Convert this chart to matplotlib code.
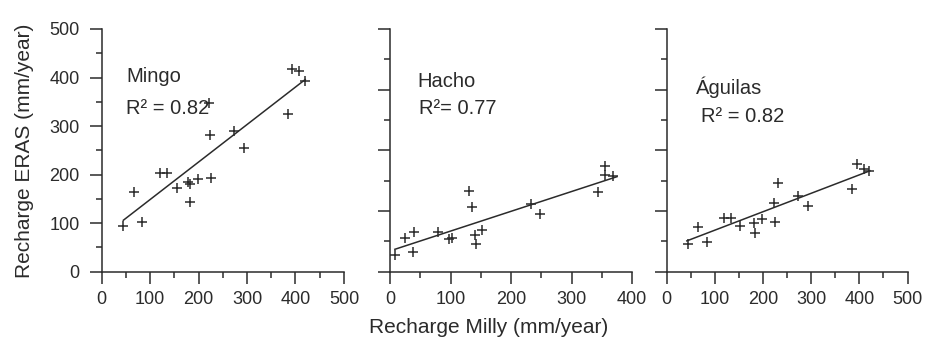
import matplotlib
matplotlib.use("Agg")
import matplotlib.pyplot as plt
import numpy as np
from matplotlib.ticker import MultipleLocator

plt.rcParams["font.family"] = ["Liberation Sans", "DejaVu Sans"]

# values
mingo_x = [45, 66, 83, 121, 134, 155, 178, 183, 183, 198, 224, 225, 222, 273, 294, 384, 393, 408, 420]
mingo_y = [94, 165, 103, 204, 204, 173, 185, 180, 144, 190, 281, 192, 347, 290, 254, 325, 417, 413, 393]

hacho_x = [8, 25, 38, 40, 80, 98, 102, 130, 136, 141, 142, 152, 233, 248, 343, 355, 355, 369]
hacho_y = [28, 56, 32, 65, 66, 54, 55, 133, 107, 60, 45, 68, 111, 95, 131, 174, 159, 158]

aguilas_x = [45, 66, 83, 120, 133, 153, 181, 183, 197, 225, 223, 231, 273, 294, 385, 395, 410, 420]
aguilas_y = [46, 74, 49, 89, 89, 76, 80, 64, 87, 82, 114, 146, 125, 108, 136, 177, 170, 166]

# regression lines: slope, intercept, x extent
fit_slope = [0.773, 0.326, 0.304]
fit_intercept = [71.2, 34.3, 38.0]
fit_xrange = [(45, 420), (8, 375), (42, 422)]

names = ["Mingo", "Hacho", "Águilas"]
r2_labels = ["R² = 0.82", "R²= 0.77", "R² = 0.82"]
xmax = [500, 400, 500]
ymax = [500, 400, 400]

ink = "#2b2b2b"

fig = plt.figure(figsize=(9.34, 3.45), dpi=100)
positions = [
    [0.1087, 0.2125, 0.2596, 0.7035],
    [0.4176, 0.2125, 0.2591, 0.7035],
    [0.7137, 0.2125, 0.2580, 0.7035],
]
text_pos = [
    [(0.101, 0.806), (0.101, 0.674)],
    [(0.112, 0.785), (0.12, 0.674)],
    [(0.12, 0.761), (0.141, 0.641)],
]

all_x = [mingo_x, hacho_x, aguilas_x]
all_y = [mingo_y, hacho_y, aguilas_y]

for i in range(3):
    ax = fig.add_axes(positions[i])
    ax.plot(all_x[i], all_y[i], "+", color=ink, markersize=7, mew=1.1, zorder=3)
    lx = np.array(fit_xrange[i], dtype=float)
    ax.plot(lx, fit_slope[i] * lx + fit_intercept[i], color=ink, lw=1.1)

    ax.set_xlim(0, xmax[i])
    ax.set_ylim(0, ymax[i])
    ax.xaxis.set_major_locator(MultipleLocator(100))
    ax.xaxis.set_minor_locator(MultipleLocator(50))
    ax.yaxis.set_major_locator(MultipleLocator(100))
    ax.yaxis.set_minor_locator(MultipleLocator(50))
    for side in ["top", "right"]:
        ax.spines[side].set_visible(False)
    for side in ["left", "bottom"]:
        ax.spines[side].set_color(ink)
        ax.spines[side].set_linewidth(1.1)
    ax.tick_params(which="major", length=8.6, width=1.1, color=ink,
                   labelsize=13, labelcolor=ink)
    ax.tick_params(which="minor", length=4.3, width=1.1, color=ink)
    ax.tick_params(axis="x", which="major", pad=5)
    ax.tick_params(axis="y", which="major", pad=7)
    if i > 0:
        ax.tick_params(axis="y", labelleft=False)
    ax.patch.set_alpha(0)

    ax.text(*text_pos[i][0], names[i], transform=ax.transAxes,
            fontsize=14.5, color=ink, va="center", ha="left")
    ax.text(*text_pos[i][1], r2_labels[i], transform=ax.transAxes,
            fontsize=14.5, color=ink, va="center", ha="left")

    if i == 0:
        ax.set_ylabel("Recharge ERAS (mm/year)", fontsize=15, color=ink, labelpad=11)

fig.text(0.5236, 0.052, "Recharge Milly (mm/year)", fontsize=15, color=ink,
         ha="center", va="center")

fig.savefig("out.png", dpi=100)
